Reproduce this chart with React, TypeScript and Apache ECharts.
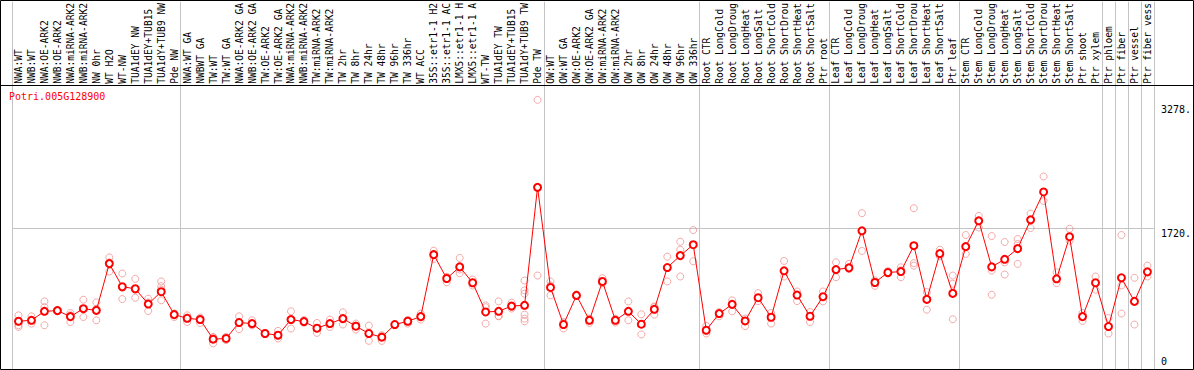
import { useEffect, useRef } from "react";
import * as echarts from "echarts";

const geneName = "Potri.005G128900";

const categories = [
  "NWA:WT", "NWB:WT", "NWA:OE-ARK2", "NWB:OE-ARK2", "NWA:miRNA-ARK2", "NWB:miRNA-ARK2",
  "NW 0hr", "WT H2O", "WT-NW", "TUA1dEY NW", "TUA1dEY+TUB15", "TUA1dY+TUB9 NW", "Pde NW",
  "NWA:WT GA", "NWBWT GA", "TW:WT", "TW:WT GA", "NWA:OE-ARK2 GA", "NWB:OE-ARK2 GA",
  "TW:OE-ARK2", "TW:OE-ARK2 GA", "NWA:miRNA-ARK2", "NWB:miRNA-ARK2", "TW:miRNA-ARK2",
  "TW:miRNA-ARK2", "TW 2hr", "TW 8hr", "TW 24hr", "TW 48hr", "TW 96hr", "TW 336hr", "WT ACC",
  "35S::etr1-1 H2", "35S::etr1-1 AC", "LMX5::etr1-1 H", "LMX5::etr1-1 A", "WT-TW",
  "TUA1dEY TW", "TUA1dEY+TUB15", "TUA1dY+TUB9 TW", "Pde TW",
  "OW:WT", "OW:WT GA", "OW:OE-ARK2", "OW:OE-ARK2 GA", "OW:miRNA-ARK2", "OW:miRNA-ARK2",
  "OW 2hr", "OW 8hr", "OW 24hr", "OW 48hr", "OW 96hr", "OW 336hr",
  "Root CTR", "Root LongCold", "Root LongDroug", "Root LongHeat", "Root LongSalt",
  "Root ShortCold", "Root ShortDrou", "Root ShortHeat", "Root ShortSalt", "Ptr root",
  "Leaf CTR", "Leaf LongCold", "Leaf LongDroug", "Leaf LongHeat", "Leaf LongSalt",
  "Leaf ShortCold", "Leaf ShortDrou", "Leaf ShortHeat", "Leaf ShortSalt", "Ptr leaf",
  "Stem CTR", "Stem LongCold", "Stem LongDroug", "Stem LongHeat", "Stem LongSalt",
  "Stem ShortCold", "Stem ShortDrou", "Stem ShortHeat", "Stem ShortSalt",
  "Ptr shoot", "Ptr xylem", "Ptr phloem", "Ptr fiber", "Ptr vessel", "Ptr fiber vess",
];

const means = [
  564, 576, 688, 697, 622, 721, 700, 1284, 995, 970, 779, 933, 647,
  601, 585, 340, 349, 548, 535, 411, 390, 585, 560, 477, 535, 597, 502, 411, 365, 523, 564, 622,
  1396, 1098, 1243, 1045, 680, 688, 754, 763, 2237,
  986, 523, 887, 576, 1061, 576, 688, 527, 713, 1235, 1384, 1520,
  452, 660, 775, 568, 858, 614, 1194, 891, 626, 871,
  1210, 1231, 1694, 1048, 1173, 1185, 1508, 837, 1409, 912,
  1496, 1819, 1243, 1338, 1471, 1831, 2179, 1094, 1620, 622, 1045,
  498, 1107, 812, 1181,
];

const replicates = [
  [638, 514, 493], [626, 535, 580], [812, 741, 514], [690, 705, 697], [667, 555, 640],
  [833, 617, 715], [800, 576, 720], [1362, 1185, 1300], [1160, 841, 985], [1094, 858, 960],
  [846, 692, 800], [1061, 1002, 825, 960], [660, 617, 660],
  [638, 555, 610], [597, 543, 610], [369, 287, 360], [369, 328, 350], [626, 465, 555],
  [576, 514, 520], [405, 418, 411], [443, 349, 380], [688, 473, 590], [580, 545, 560],
  [543, 419, 470], [585, 493, 530], [676, 523, 590], [535, 461, 510], [510, 319, 405],
  [390, 319, 380], [530, 515, 523], [576, 535, 580], [660, 585, 620],
  [1446, 1343, 1400], [1114, 1052, 1120], [1355, 1164, 1210], [1086, 1045, 1010],
  [763, 535, 740], [812, 626, 630], [796, 722, 745], [1073, 949, 908, 647, 597, 564],
  [3330, 1135],
  [1061, 887, 1010], [555, 473, 540], [880, 895], [597, 543, 590], [1102, 1040, 1040],
  [597, 548, 585], [812, 576], [651, 399], [750, 647, 740], [1371, 1061],
  [1557, 1458, 1123], [1703, 1313],
  [411, 440, 505], [679, 626], [825, 688], [597, 502], [915, 816], [667, 535],
  [1318, 1123], [936, 816], [679, 555], [936, 812],
  [1300, 1114], [1281, 1218], [1914, 1442], [1007, 1060, 1075], [1190, 1160, 1170],
  [1238, 1114, 1200], [1976, 1259, 1290], [928, 709], [1458, 1375], [1135, 1032, 589],
  [1641, 1405], [1880, 1735], [1628, 1197, 895], [1554, 1300, 1148], [1591, 1529, 1281],
  [1909, 1728], [2373, 2067], [1176, 1040], [1719, 1570], [667, 568], [1123, 958],
  [605, 411], [1641, 1011, 660], [1107, 523], [1259, 1123],
];

// first category index of each sample group (vertical separators)
const groupStarts = [0, 13, 41, 53, 63, 73, 84, 85, 86, 87];

const rightTickValues = [3278, 1720];
const rightTickLabels = ["3278.", "1720."];
const zeroTickValues = [0];
const refLineValues = [1720];

export default function App() {
  const ref = useRef<HTMLDivElement>(null);

  useEffect(() => {
    const el = ref.current;
    if (!el) return;
    const chart = echarts.init(el, null, { renderer: "svg" });
    const font = "'DejaVu Sans Mono', monospace";
    const yMin = -45;
    const yMax = 4554;

    const repData: number[][] = [];
    replicates.forEach((arr, i) => arr.forEach((v) => repData.push([i, v])));

    const yBase = {
      type: "value",
      min: yMin,
      max: yMax,
      position: "right",
      axisLine: { show: false },
      splitLine: { show: false },
      axisTick: { show: false },
    };

    chart.setOption({
      animation: false,
      grid: { left: 12, right: 38, top: 0, bottom: 0, containLabel: false },
      title: {
        text: geneName,
        left: 9,
        top: 91,
        padding: 0,
        textStyle: { color: "#ff0000", fontSize: 10, fontFamily: font, fontWeight: "normal" },
      },
      xAxis: {
        type: "category",
        data: categories,
        position: "top",
        offset: -85,
        boundaryGap: true,
        axisLine: { show: false },
        axisTick: { show: false },
        axisLabel: {
          interval: 0,
          rotate: 90,
          margin: 3,
          fontFamily: font,
          fontSize: 9.6,
          color: "#000",
        },
        splitLine: {
          show: true,
          interval: (i: number) => groupStarts.includes(i),
          lineStyle: { color: "#c4c4c4", width: 1 },
        },
      },
      yAxis: [
        {
          ...yBase,
          axisTick: { show: false, customValues: refLineValues },
          splitLine: { show: true, lineStyle: { color: "#c4c4c4", width: 1 } },
          axisLabel: {
            show: true,
            customValues: rightTickValues,
            formatter: (v: number) => {
              const k = rightTickValues.indexOf(v);
              return k >= 0 ? rightTickLabels[k] : "";
            },
            verticalAlign: "top",
            margin: 7,
            fontFamily: font,
            fontSize: 10,
            color: "#000",
          },
        },
        {
          ...yBase,
          axisLabel: {
            show: true,
            customValues: zeroTickValues,
            formatter: (v: number) => String(v),
            verticalAlign: "bottom",
            margin: 7,
            fontFamily: font,
            fontSize: 10,
            color: "#000",
          },
        },
      ],
      series: [
        {
          type: "scatter",
          data: repData,
          symbol: "circle",
          symbolSize: 7,
          silent: true,
          z: 2,
          itemStyle: { color: "rgba(255,255,255,0)", borderColor: "#f09494", borderWidth: 1 },
        },
        {
          type: "line",
          data: means,
          symbol: "emptyCircle",
          symbolSize: 7,
          showAllSymbol: true,
          silent: true,
          z: 3,
          lineStyle: { color: "#ff0000", width: 1 },
          itemStyle: { color: "#ff0000", borderColor: "#ff0000", borderWidth: 1.6 },
        },
      ],
      graphic: [
        {
          type: "rect",
          silent: true,
          z: 100,
          shape: { x: 0.5, y: 0.5, width: 1193, height: 369 },
          style: { fill: "none", stroke: "#000", lineWidth: 1 },
        },
        {
          type: "line",
          silent: true,
          z: 100,
          shape: { x1: 0, y1: 85.5, x2: 1194, y2: 85.5 },
          style: { stroke: "#000", lineWidth: 1 },
        },
      ],
    });

    return () => chart.dispose();
  }, []);

  return (
    <div
      ref={ref}
      style={{ position: "absolute", left: 0, top: 0, width: 1194, height: 370, background: "#fff" }}
    />
  );
}
